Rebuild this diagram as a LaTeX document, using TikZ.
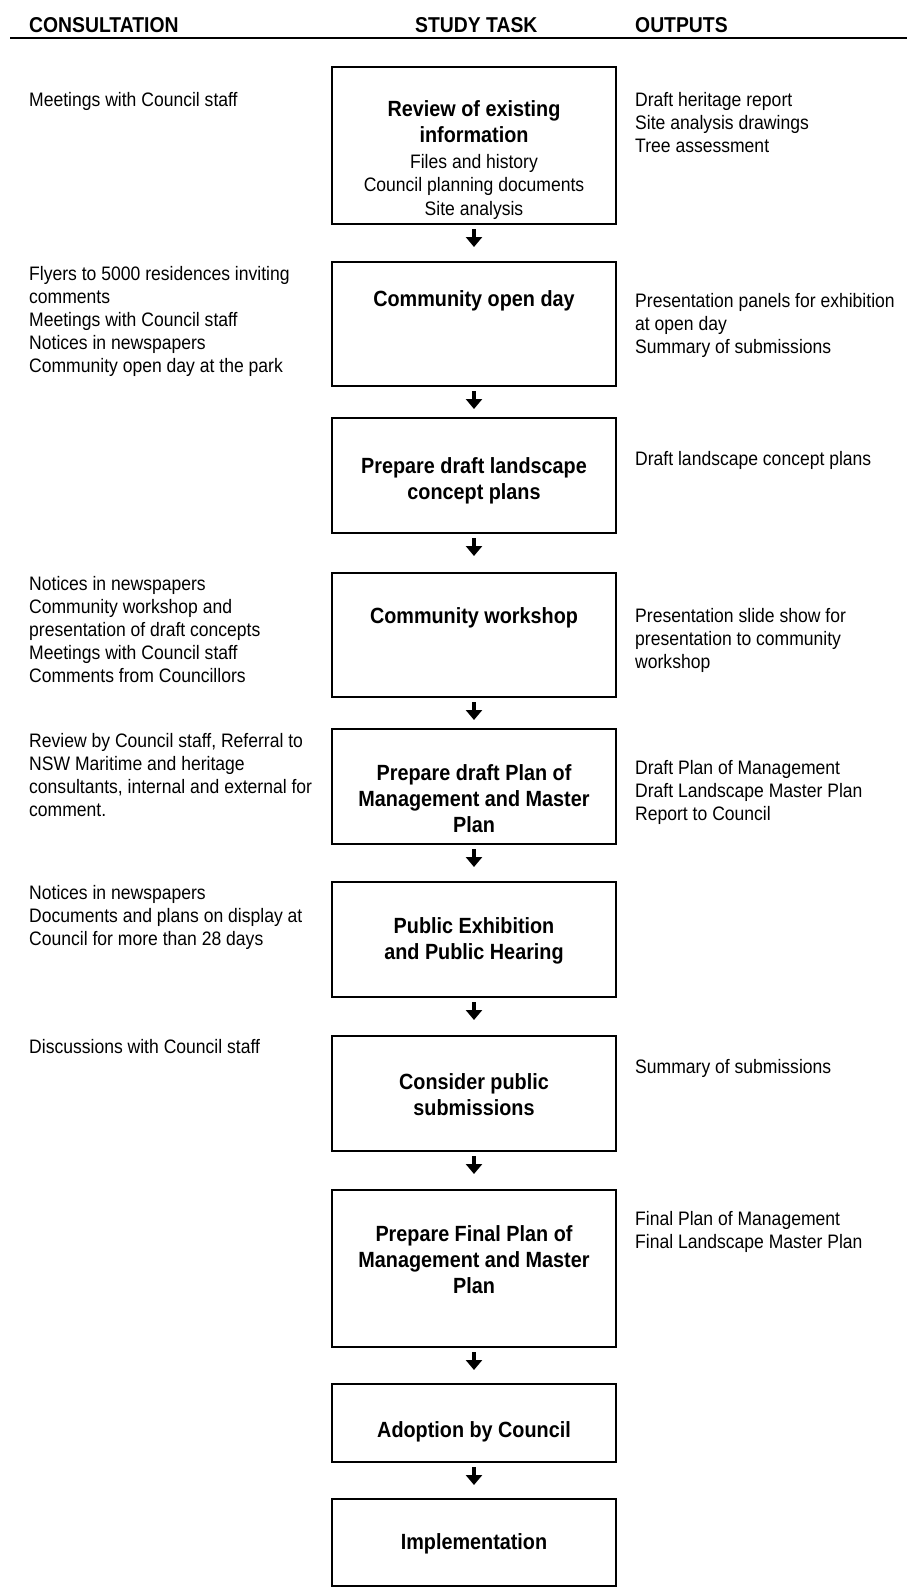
\documentclass[tikz,border=0pt]{standalone}
\usepackage{fontspec}
\setmainfont{Liberation Sans}[FakeStretch=0.9]
\usetikzlibrary{arrows.meta,positioning}

\tikzset{
  taskbox/.style={draw, line width=2pt, minimum width=284pt, inner sep=0pt},
  tasktitle/.style={font=\fontsize{22}{26}\selectfont\bfseries, align=center, anchor=north, inner sep=0pt},
  taskdetail/.style={font=\fontsize{19.5}{23.5}\selectfont, align=center, anchor=north, inner sep=0pt},
  sidetext/.style={font=\fontsize{19.5}{23}\selectfont, align=left, anchor=north west, inner sep=0pt},
  headtext/.style={font=\fontsize{21.5}{24}\selectfont\bfseries, anchor=base west, inner sep=0pt},
  flowarrow/.style={line width=3.5pt, -{Triangle[width=16pt,length=10pt]}, shorten <=4pt}
}

\begin{document}
\begin{tikzpicture}[x=1pt,y=-1pt]
\useasboundingbox (0,0) rectangle (907,1588);

% column heads
\node[headtext] (hcons) at (29,32) {CONSULTATION};
\node[headtext] (htask) at (415,32) {STUDY TASK};
\node[headtext] (hout) at (635,32) {OUTPUTS};
\coordinate (rulel) at (10,37.7);
\coordinate (ruler) at (907,37.7);
\draw[line width=2pt] (rulel) -- (ruler);

% study task boxes
\node[taskbox, minimum height=157.3pt] (b1) at (474,145.35) {};
\node[taskbox, minimum height=124pt] (b2) at (474,324) {};
\node[taskbox, minimum height=115pt] (b3) at (474,475.5) {};
\node[taskbox, minimum height=124pt] (b4) at (474,635) {};
\node[taskbox, minimum height=115pt] (b5) at (474,786.5) {};
\node[taskbox, minimum height=115pt] (b6) at (474,939.5) {};
\node[taskbox, minimum height=115pt] (b7) at (474,1093.5) {};
\node[taskbox, minimum height=157pt] (b8) at (474,1268.5) {};
\node[taskbox, minimum height=78pt] (b9) at (474,1423) {};
\node[taskbox, minimum height=87pt] (b10) at (474,1542.5) {};

\node[tasktitle] (t1) at (474,100) {Review of existing\\information};
\node[taskdetail] (d1) at (474,154) {Files and history\\Council planning documents\\Site analysis};
\node[tasktitle] (t2) at (474,290) {Community open day};
\node[tasktitle] (t3) at (474,457) {Prepare draft landscape\\concept plans};
\node[tasktitle] (t4) at (474,607) {Community workshop};
\node[tasktitle] (t5) at (474,764) {Prepare draft Plan of\\Management and Master\\Plan};
\node[tasktitle] (t6) at (474,917) {Public Exhibition\\and Public Hearing};
\node[tasktitle] (t7) at (474,1073) {Consider public\\submissions};
\node[tasktitle] (t8) at (474,1225) {Prepare Final Plan of\\Management and Master\\Plan};
\node[tasktitle] (t9) at (474,1421) {Adoption by Council};
\node[tasktitle] (t10) at (474,1533) {Implementation};

% arrows between tasks (last value: gap left under the tip)
\foreach \i/\j/\s in {1/2/14,2/3/8,3/4/16,4/5/8,5/6/14,6/7/15,7/8/15,8/9/13,9/10/13}
  \draw[flowarrow, shorten >=\s pt] (b\i.south) -- (b\j.north);

% consultation
\node[sidetext] (c1) at (29,92) {Meetings with Council staff};
\node[sidetext] (c2) at (29,266) {Flyers to 5000 residences inviting\\comments\\Meetings with Council staff\\Notices in newspapers\\Community open day at the park};
\node[sidetext] (c4) at (29,576) {Notices in newspapers\\Community workshop and\\presentation of draft concepts\\Meetings with Council staff\\Comments from Councillors};
\node[sidetext] (c5) at (29,733) {Review by Council staff, Referral to\\NSW Maritime and heritage\\consultants, internal and external for\\comment.};
\node[sidetext] (c6) at (29,885) {Notices in newspapers\\Documents and plans on display at\\Council for more than 28 days};
\node[sidetext] (c7) at (29,1039) {Discussions with Council staff};

% outputs
\node[sidetext] (o1) at (635,92) {Draft heritage report\\Site analysis drawings\\Tree assessment};
\node[sidetext] (o2) at (635,293) {Presentation panels for exhibition\\at open day\\Summary of submissions};
\node[sidetext] (o3) at (635,451) {Draft landscape concept plans};
\node[sidetext] (o4) at (635,608) {Presentation slide show for\\presentation to community\\workshop};
\node[sidetext] (o5) at (635,760) {Draft Plan of Management\\Draft Landscape Master Plan\\Report to Council};
\node[sidetext] (o7) at (635,1059) {Summary of submissions};
\node[sidetext] (o8) at (635,1211) {Final Plan of Management\\Final Landscape Master Plan};
\end{tikzpicture}
\end{document}
